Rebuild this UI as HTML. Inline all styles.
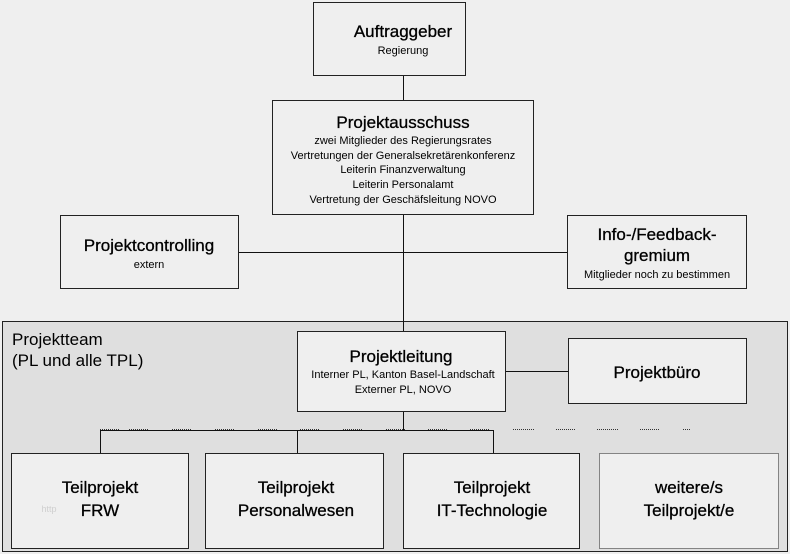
<!DOCTYPE html>
<html><head><meta charset="utf-8"><style>
html,body{margin:0;padding:0;background:#efefef;}
svg{display:block;font-family:"Liberation Sans",Arial,sans-serif;}
</style></head><body>
<svg width="790" height="554" viewBox="0 0 790 554" xmlns="http://www.w3.org/2000/svg">
<rect x="0" y="0" width="790" height="554" fill="#efefef"/>
<rect x="2.5" y="321.5" width="785" height="230" fill="#dfdfdf" stroke="#222" stroke-width="1"/>
<g stroke="#111" stroke-width="1" fill="none">
<line x1="403.5" y1="75" x2="403.5" y2="331"/>
<line x1="238" y1="252.5" x2="567" y2="252.5"/>
<line x1="505" y1="371.5" x2="568" y2="371.5"/>
<line x1="403.5" y1="411" x2="403.5" y2="430"/>
<line x1="100" y1="430.5" x2="493" y2="430.5"/>
<line x1="100.5" y1="430" x2="100.5" y2="453"/>
<line x1="297.5" y1="430" x2="297.5" y2="453"/>
<line x1="493.5" y1="430" x2="493.5" y2="453"/>
</g>
<g stroke="#333" stroke-width="1" fill="none" stroke-dasharray="1,1">
<line x1="100" y1="429.5" x2="120" y2="429.5"/>
<line x1="129" y1="429.5" x2="148" y2="429.5"/>
<line x1="172" y1="429.5" x2="191" y2="429.5"/>
<line x1="215" y1="429.5" x2="234" y2="429.5"/>
<line x1="258" y1="429.5" x2="277" y2="429.5"/>
<line x1="300" y1="429.5" x2="319" y2="429.5"/>
<line x1="343" y1="429.5" x2="362" y2="429.5"/>
<line x1="386" y1="429.5" x2="405" y2="429.5"/>
<line x1="428" y1="429.5" x2="447" y2="429.5"/>
<line x1="470" y1="429.5" x2="489" y2="429.5"/>
<line x1="513" y1="429.5" x2="534" y2="429.5"/>
<line x1="556" y1="429.5" x2="575" y2="429.5"/>
<line x1="597" y1="429.5" x2="618" y2="429.5"/>
<line x1="640" y1="429.5" x2="659" y2="429.5"/>
<line x1="683" y1="429.5" x2="690" y2="429.5"/>
</g>
<g fill="#efefef" stroke="#222" stroke-width="1">
<rect x="313.5" y="2.5" width="152" height="73"/>
<rect x="272.5" y="100.5" width="261" height="114"/>
<rect x="60.5" y="215.5" width="178" height="73"/>
<rect x="567.5" y="215.5" width="179" height="73"/>
<rect x="297.5" y="331.5" width="208" height="80"/>
<rect x="568.5" y="338.5" width="178" height="65"/>
<rect x="11.5" y="453.5" width="177" height="95"/>
<rect x="205.5" y="453.5" width="178" height="95"/>
<rect x="403.5" y="453.5" width="176" height="95"/>
<rect x="599.5" y="453.5" width="179" height="95" stroke-dasharray="1,1"/>
</g>
<g fill="#000" text-anchor="middle" stroke="#000" stroke-width="0.3">
<text x="389" y="37" font-size="17" transform="translate(14,0)">Auftraggeber</text>
<text x="403" y="128" font-size="17">Projektausschuss</text>
<text x="149" y="251" font-size="17">Projektcontrolling</text>
<text x="657" y="240" font-size="17">Info-/Feedback-</text>
<text x="657" y="261" font-size="17">gremium</text>
<text x="401" y="362" font-size="17">Projektleitung</text>
<text x="657" y="378" font-size="17">Projektbüro</text>
<text x="100" y="493" font-size="17">Teilprojekt</text>
<text x="100" y="516" font-size="17">FRW</text>
<text x="296" y="493" font-size="17">Teilprojekt</text>
<text x="296" y="516" font-size="17">Personalwesen</text>
<text x="492" y="493" font-size="17">Teilprojekt</text>
<text x="492" y="516" font-size="17">IT-Technologie</text>
<text x="689" y="493" font-size="17">weitere/s</text>
<text x="689" y="516" font-size="17">Teilprojekt/e</text>
</g>
<g fill="#000" text-anchor="middle">
<text x="403" y="54" font-size="11">Regierung</text>
<text x="403" y="144" font-size="11">zwei Mitglieder des Regierungsrates</text>
<text x="403" y="159" font-size="11">Vertretungen der Generalsekretärenkonferenz</text>
<text x="403" y="173" font-size="11">Leiterin Finanzverwaltung</text>
<text x="403" y="188" font-size="11">Leiterin Personalamt</text>
<text x="403" y="203" font-size="11">Vertretung der Geschäfsleitung NOVO</text>
<text x="149" y="268" font-size="11">extern</text>
<text x="657" y="278" font-size="11">Mitglieder noch zu bestimmen</text>
<text x="403" y="378" font-size="11">Interner PL, Kanton Basel-Landschaft</text>
<text x="403" y="393" font-size="11">Externer PL, NOVO</text>
</g>
<text x="49" y="512" font-size="9" fill="#cfcfcf" text-anchor="middle">http</text>
<text x="12" y="345" font-size="17" fill="#000">Projektteam</text>
<text x="12" y="366" font-size="17" fill="#000">(PL und alle TPL)</text>
</svg>
</body></html>
